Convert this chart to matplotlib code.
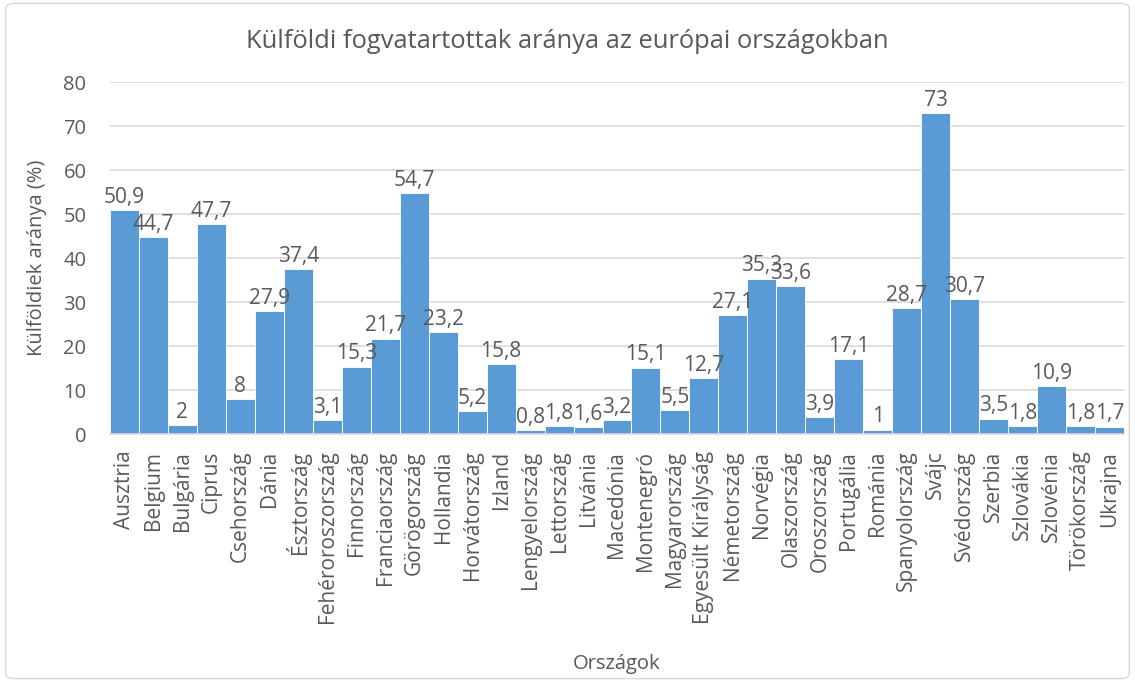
import matplotlib.pyplot as plt
from matplotlib.patches import FancyBboxPatch

countries = ["Ausztria", "Belgium", "Bulgária", "Ciprus", "Csehország", "Dánia",
             "Észtország", "Fehéroroszország", "Finnország", "Franciaország",
             "Görögország", "Hollandia", "Horvátország", "Izland", "Lengyelország",
             "Lettország", "Litvánia", "Macedónia", "Montenegró", "Magyarország",
             "Egyesült Királyság", "Németország", "Norvégia", "Olaszország",
             "Oroszország", "Portugália", "Románia", "Spanyolország", "Svájc",
             "Svédország", "Szerbia", "Szlovákia", "Szlovénia", "Törökország", "Ukrajna"]
values = [50.9, 44.7, 2, 47.7, 8, 27.9, 37.4, 3.1, 15.3, 21.7,
          54.7, 23.2, 5.2, 15.8, 0.8, 1.8, 1.6, 3.2, 15.1, 5.5,
          12.7, 27.1, 35.3, 33.6, 3.9, 17.1, 1, 28.7, 73, 30.7,
          3.5, 1.8, 10.9, 1.8, 1.7]
yticks = [0, 10, 20, 30, 40, 50, 60, 70, 80]

plt.rcParams['font.family'] = ['Open Sans', 'DejaVu Sans']
txt = "#595959"
bar_color = "#5B9BD5"

fig = plt.figure(figsize=(11.35, 6.82), dpi=100)
ax = fig.add_axes([110 / 1135, 1 - 434 / 682, (1124 - 110) / 1135, (434 - 82) / 682])

x = range(len(countries))
bars = ax.bar(x, values, width=1.0, color=bar_color, edgecolor="white", linewidth=0.6, zorder=2)

# data labels, comma as decimal separator
for xi, v in zip(x, values):
    lab = f"{v:g}".replace(".", ",")
    ax.text(xi, v + 0.5, lab, ha="center", va="bottom", fontsize=15, color=txt, zorder=3)

ax.set_xlim(-0.5, len(countries) - 0.5)
ax.set_ylim(0, 80)
ax.set_yticks(yticks)
ax.set_yticklabels([str(t) for t in yticks], fontsize=14.5, color=txt)
ax.set_xticks(list(x))
ax.set_xticklabels(countries, rotation=90, fontsize=15, color=txt)
ax.tick_params(axis="x", length=0, pad=12)
ax.tick_params(axis="y", length=0, pad=17)
ax.grid(axis="y", color="#d9d9d9", linewidth=1.2, zorder=0)
for s in ["top", "right", "left"]:
    ax.spines[s].set_visible(False)
ax.spines["bottom"].set_color("#d9d9d9")
ax.spines["bottom"].set_linewidth(1.2)

ax.set_ylabel("Külföldiek aránya (%)", fontsize=14.5, color=txt, labelpad=12)
ax.set_xlabel("Országok", fontsize=14.5, color=txt, labelpad=22)
fig.text(0.5, 1 - 42 / 682, "Külföldi fogvatartottak aránya az európai országokban",
         ha="center", va="center", fontsize=18.4, color=txt)

border = FancyBboxPatch((0.005, 0.005), 0.99, 0.99, boxstyle="round,pad=0,rounding_size=0.008",
                        transform=fig.transFigure, fill=False, edgecolor="#d9d9d9", linewidth=1)
fig.patches.append(border)

fig.savefig("out.png", dpi=100)
